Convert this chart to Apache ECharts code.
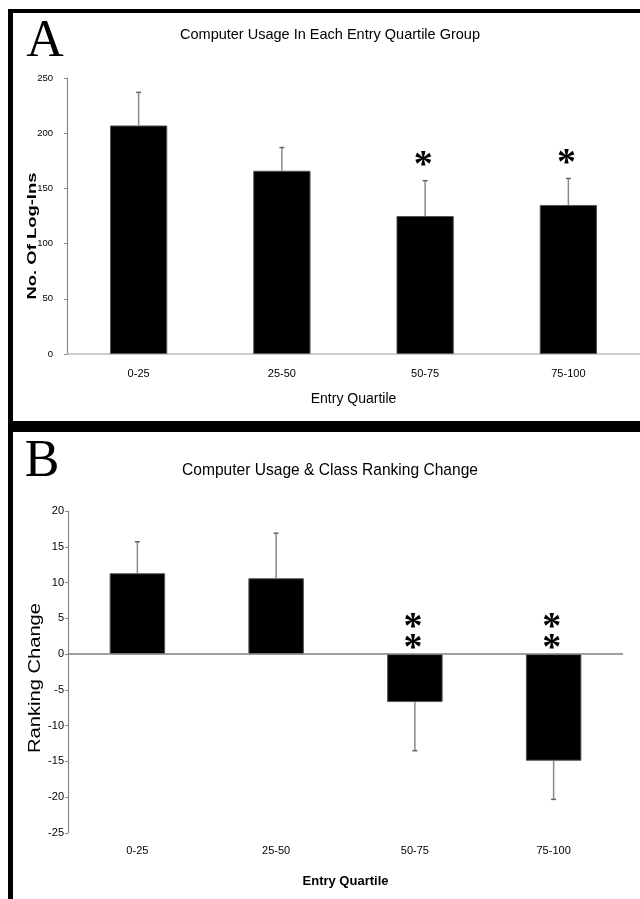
<!DOCTYPE html>
<html><head><meta charset="utf-8">
<script src="https://cdn.jsdelivr.net/npm/echarts@6/dist/echarts.min.js"></script>
<style>html,body{margin:0;padding:0;background:#fff}#c{width:640px;height:899px}</style>
</head><body><div id="c"></div>
<script>
// ---- data ----
const categories = ['0-25', '25-50', '50-75', '75-100'];
const loginMeans = [207, 166, 125, 135];
const loginErrors = [30, 21, 32, 24];
const loginSig = ['', '', '*', '*'];
const rankMeans = [11.3, 10.6, -6.7, -14.9];
const rankErrors = [4.4, 6.3, 6.8, 5.4];
const rankSig = ['', '', '**', '**'];
const titleA = 'Computer Usage In Each Entry Quartile Group';
const titleB = 'Computer Usage & Class Ranking Change';
const yNameA = 'No. Of Log-Ins';
const yNameB = 'Ranking Change';
const xName = 'Entry Quartile';

// ---- font helpers ----
const mctx = document.createElement('canvas').getContext('2d');
function fontAvail(name) {
  const s = 'mmmmmmmmmmlli0-25 Entry Quartile WWW';
  mctx.font = '32px monospace'; const a = mctx.measureText(s).width;
  mctx.font = '32px "' + name + '", monospace'; const b = mctx.measureText(s).width;
  return a !== b;
}
const NARROW = fontAvail('Liberation Sans Narrow') ? 'Liberation Sans Narrow' : (fontAvail('Arial Narrow') ? 'Arial Narrow' : null);
const SANS = 'Liberation Sans';
function fitScale(text, font, target) { mctx.font = font; return target / mctx.measureText(text).width; }

const labelFont = NARROW ? { fontFamily: NARROW, fontSize: 13 } : { fontFamily: SANS, fontSize: 11 };
const xNameBFont = NARROW ? { fontFamily: NARROW, fontSize: 16, fontWeight: 'bold' } : { fontFamily: SANS, fontSize: 13, fontWeight: 'bold' };

function errorRender(sigArr, mode) {
  return function (params, api) {
    const i = api.value(0), m = api.value(1), e = api.value(2);
    const dir = m >= 0 ? 1 : -1;
    const p0 = api.coord([i, m]);
    const p1 = api.coord([i, m + dir * e]);
    const ch = [
      { type: 'line', shape: { x1: p0[0], y1: p0[1], x2: p1[0], y2: p1[1] }, style: { stroke: '#8a8a8a', lineWidth: 1.5 } },
      { type: 'line', shape: { x1: p1[0] - 2.5, y1: p1[1], x2: p1[0] + 2.5, y2: p1[1] }, style: { stroke: '#666', lineWidth: 1.5 } }
    ];
    const s = sigArr[params.dataIndex];
    if (s) {
      let ys;
      if (mode === 'A') ys = [p1[1] - 24];
      else { const z = api.coord([i, 0]); ys = [z[1] - 14, z[1] - 35]; }
      ys.slice(0, s.length).forEach(function (y) {
        ch.push({ type: 'text', x: p0[0] - 2, y: y + 9.5,
          style: { text: '*', font: 'bold 38px "Liberation Serif"', fill: '#000', textAlign: 'center', textVerticalAlign: 'middle' } });
      });
    }
    return { type: 'group', children: ch };
  };
}

const fontTA = '15px "' + SANS + '"';
const fontTB = '17px "' + SANS + '"';
const fontYA = 'bold 13px "' + SANS + '"';
const fontYB = '16px "' + SANS + '"';

const chart = echarts.init(document.getElementById('c'), null, { renderer: 'canvas' });
chart.setOption({
  animation: false,
  backgroundColor: '#fff',
  grid: [
    { left: 67, top: 78, width: 573, height: 276 },
    { left: 68, top: 511, width: 555, height: 322 }
  ],
  xAxis: [
    { type: 'category', gridIndex: 0, data: categories,
      axisLine: { lineStyle: { color: '#bdbdbd', width: 1.5 } }, axisTick: { show: false },
      axisLabel: Object.assign({ color: '#000', margin: 14 }, labelFont),
      name: xName, nameLocation: 'middle', nameGap: 38,
      nameTextStyle: { color: '#000', fontFamily: SANS, fontSize: 14 } },
    { type: 'category', gridIndex: 1, data: categories,
      axisLine: { show: false }, axisTick: { show: false },
      axisLabel: Object.assign({ color: '#000', margin: 12 }, labelFont),
      name: xName, nameLocation: 'middle', nameGap: 42,
      nameTextStyle: Object.assign({ color: '#000' }, xNameBFont) }
  ],
  yAxis: [
    { type: 'value', gridIndex: 0, min: 0, max: 250, interval: 50,
      axisLine: { show: true, lineStyle: { color: '#888', width: 1.2 } },
      axisTick: { show: true, length: 3, lineStyle: { color: '#888' } },
      splitLine: { show: false },
      axisLabel: { color: '#000', fontFamily: SANS, fontSize: 9.5, margin: 14 } },
    { type: 'value', gridIndex: 1, min: -25, max: 20, interval: 5,
      axisLine: { show: true, onZero: false, lineStyle: { color: '#888', width: 1.2 } },
      axisTick: { show: true, length: 3, lineStyle: { color: '#888' } },
      splitLine: { show: false },
      axisLabel: { color: '#000', fontFamily: SANS, fontSize: 11, margin: 4 } }
  ],
  series: [
    { type: 'bar', xAxisIndex: 0, yAxisIndex: 0, data: loginMeans, barWidth: '40%',
      itemStyle: { color: '#000', borderColor: '#555', borderWidth: 1 } },
    { type: 'custom', xAxisIndex: 0, yAxisIndex: 0, z: 5,
      data: categories.map(function (c, i) { return [i, loginMeans[i], loginErrors[i]]; }),
      encode: { x: 0, y: 1 }, renderItem: errorRender(loginSig, 'A') },
    { type: 'bar', xAxisIndex: 1, yAxisIndex: 1, data: rankMeans, barWidth: '40%',
      itemStyle: { color: '#000', borderColor: '#555', borderWidth: 1 },
      markLine: { silent: true, symbol: 'none', label: { show: false },
        lineStyle: { color: '#808080', width: 1.5, type: 'solid' }, data: [{ yAxis: 0 }] } },
    { type: 'custom', xAxisIndex: 1, yAxisIndex: 1, z: 5,
      data: categories.map(function (c, i) { return [i, rankMeans[i], rankErrors[i]]; }),
      encode: { x: 0, y: 1 }, renderItem: errorRender(rankSig, 'B') }
  ],
  graphic: [
    { type: 'rect', shape: { x: 8, y: 9, width: 5, height: 890 }, style: { fill: '#000' } },
    { type: 'rect', shape: { x: 8, y: 9, width: 632, height: 4 }, style: { fill: '#000' } },
    { type: 'rect', shape: { x: 8, y: 421, width: 632, height: 11 }, style: { fill: '#000' } },
    { type: 'text', x: 45, y: 42.5, style: { text: 'A', font: '52px "Liberation Serif"', fill: '#000', textAlign: 'center', textVerticalAlign: 'middle' } },
    { type: 'text', x: 42, y: 462, style: { text: 'B', font: '52px "Liberation Serif"', fill: '#000', textAlign: 'center', textVerticalAlign: 'middle' } },
    { type: 'text', x: 330, y: 35, scaleX: fitScale(titleA, fontTA, 300),
      style: { text: titleA, font: fontTA, fill: '#000', textAlign: 'center', textVerticalAlign: 'middle' } },
    { type: 'text', x: 330, y: 470, scaleX: fitScale(titleB, fontTB, 296),
      style: { text: titleB, font: fontTB, fill: '#000', textAlign: 'center', textVerticalAlign: 'middle' } },
    { type: 'text', x: 32, y: 236, rotation: Math.PI / 2, scaleX: fitScale(yNameA, fontYA, 127),
      style: { text: yNameA, font: fontYA, fill: '#000', textAlign: 'center', textVerticalAlign: 'middle' } },
    { type: 'text', x: 36, y: 678, rotation: Math.PI / 2, scaleX: fitScale(yNameB, fontYB, 150),
      style: { text: yNameB, font: fontYB, fill: '#000', textAlign: 'center', textVerticalAlign: 'middle' } }
  ]
});
</script>
</body></html>
